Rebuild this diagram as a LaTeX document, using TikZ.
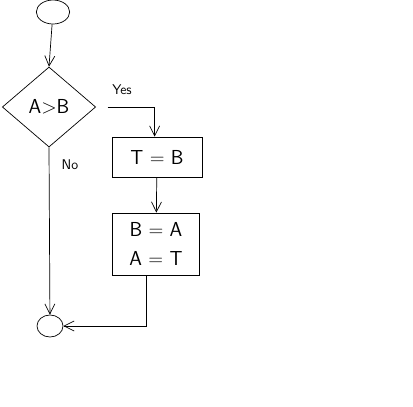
\documentclass[tikz,border=0pt]{standalone}
\usepackage{tikz}
\usetikzlibrary{arrows.meta,positioning,shapes.geometric}

\begin{document}
\begin{tikzpicture}[
    x=0.03cm, y=-0.03cm,
    terminal/.style={draw, ellipse, minimum width=0.9cm, minimum height=0.66cm, inner sep=0pt},
    decision/.style={draw, diamond, minimum width=2.8cm, minimum height=2.4cm, inner sep=0pt, font=\LARGE\sffamily},
    process/.style={draw, minimum width=2.7cm, align=center, font=\LARGE\sffamily},
    lbl/.style={font=\large\sffamily},
    arrow/.style={-{Straight Barb[length=3mm,width=3mm]}, line width=0.6pt},
    every path/.style={line width=0.6pt}
]
\useasboundingbox (0,0) rectangle (413,406);

% Start and end
\node[terminal, minimum width=1cm, minimum height=0.72cm] (start) at (53,12) {};
\node[terminal, minimum width=0.78cm] (stop) at (50,326) {};

% Comparison
\node[decision] (cmp) at (49,107) {A$>$B};

% Swap steps
\node[process, minimum height=1.2cm] (tmp) at (157,157) {T = B};
\node[process, minimum width=2.6cm, minimum height=1.86cm] (swap) at (156,244) {B = A\\[2pt]A = T};

% Labels
\node[lbl] (yes) at (122,90) {Yes};
\node[lbl] (no) at (70,165) {No};

% Connectors
\draw[arrow] (start) -- (cmp.north);
\draw[arrow, shorten <=0.35cm] (cmp.east) -| ([xshift=-2]tmp.north);
\draw[arrow] (tmp) -- (swap);
\draw[arrow] (cmp.south) -- (stop);
\draw[arrow] ([xshift=-8]swap.south) |- (stop.east);
\end{tikzpicture}
\end{document}
